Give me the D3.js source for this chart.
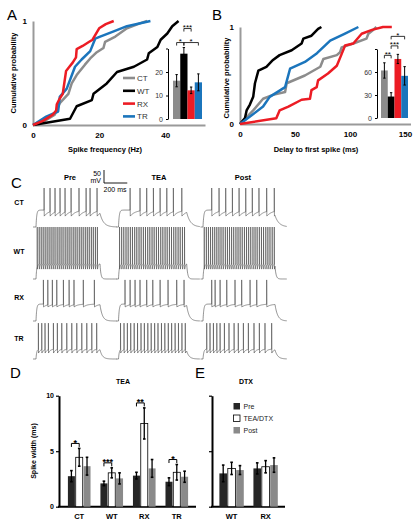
<!DOCTYPE html>
<html><head><meta charset="utf-8">
<script src="https://cdn.jsdelivr.net/npm/d3@7"></script>
<style>body{margin:0;background:#fff}svg{display:block}text{font-family:"Liberation Sans",Arial,Helvetica,sans-serif}</style>
</head><body><svg id="c" width="415" height="522"></svg>
<script>
// ---------------- DATA ----------------
const cellTypes = ["CT","WT","RX","TR"];
const cellColors = ["#8c8c8c","#000000","#ec1c24","#1b75bc"];
// Panel A: cumulative distributions of spike frequency (Hz)
const freqCT = [[0,0],[3,0.03],[6.6,0.1],[8.1,0.21],[10.7,0.3],[11.7,0.4],[13.2,0.48],[15.7,0.58],[17.3,0.64],[19.3,0.7],[21.3,0.74],[21.8,0.8],[24.9,0.85],[28.4,0.93],[32.5,0.98],[34.5,1]];
const freqWT = [[0,0],[11.2,0.06],[13.2,0.18],[17.8,0.24],[18.3,0.3],[22.3,0.4],[25.4,0.51],[30.5,0.56],[34.5,0.63],[35,0.69],[37.6,0.75],[38.6,0.82],[40.6,0.88],[42.1,0.95],[44,1]];
const freqRX = [[0,0],[3,0.04],[6,0.1],[7,0.14],[7.2,0.2],[8,0.25],[9,0.3],[10,0.52],[11,0.56],[12,0.6],[13,0.65],[13.2,0.73],[15,0.76],[17,0.8],[18,0.82],[20,0.93],[22,0.97],[24.4,1]];
const freqTR = [[0,0],[4,0.08],[7.6,0.13],[8.1,0.27],[10.2,0.35],[12.7,0.56],[14.7,0.63],[17.3,0.71],[18.8,0.83],[20.3,0.85],[24.4,0.9],[28.4,0.95],[35.5,1]];
const freqMean = [16.3,27.8,12.2,15.6];
const freqErr = [2.6,2.6,1.4,3.6];
const freqSig = [[0,1,"*",1],[1,2,"***",2],[1,3,"*",1]];
const freqTicks = [0,20,40];
const freqInsetTicks = [0,10,20];
const probTicks = [0,1];
// Panel B: delay to first spike (ms)
const delayCT = [[0,0],[12,0.14],[21,0.26],[30,0.3],[41,0.33],[42.4,0.42],[59,0.5],[73,0.59],[75.8,0.67],[88,0.71],[91,0.74],[92.4,0.79],[103,0.83],[115,0.88],[116.7,0.93],[121,0.97],[124,1]];
const delayWT = [[0,0],[4.5,0.06],[6,0.14],[9,0.2],[12,0.28],[13.6,0.42],[16.7,0.55],[24,0.59],[30,0.66],[36,0.71],[47,0.76],[56,0.83],[57.6,0.88],[65,0.91],[71,0.98],[74,1]];
const delayRX = [[0,0],[33,0.06],[36,0.14],[44,0.18],[56,0.25],[63.6,0.26],[65,0.35],[69.7,0.38],[71,0.45],[80,0.52],[88,0.6],[92,0.71],[95.5,0.81],[103,0.83],[110.6,0.93],[120,0.97],[130,1],[138,1]];
const delayTR = [[0,0],[10.6,0.09],[21,0.18],[27,0.28],[41,0.38],[45.5,0.57],[59,0.64],[70,0.73],[82,0.86],[95,0.93],[107.6,1]];
const delayMean = [62,28,77,55];
const delayErr = [10,5,6,12];
const delaySig = [[0,1,"**",1],[1,2,"***",2],[1,3,"*",3]];
const delayTicks = [0,50,100,150];
const delayInsetTicks = [0,30,60];
// Panel C: spike times (ms after step onset), step duration 550 ms
const stepDur = 550;
const sweepNames = ["Pre","TEA","Post"];
const spkCTpre = [69,120,163,206,249,301,369,430,464,524];
const spkCTtea = [93,173,227,281,335,389,442,510];
const spkCTpost = [66,122,173,224,275,326,376,427,486,544];
const spkWTpre = [10,27,44,61,78,95,112,129,146,163,181,198,215,232,250,267,284,301,319,336,353,371,388,405,423,440,457,475,492,510,527];
const spkWTtea = [8,25,42,60,77,95,112,130,147,165,182,200,217,235,252,270,287,305,322,340,357,375,392,410,427,445,462,480,497,515,532];
const spkWTpost = [9,25,41,57,73,89,105,121,137,153,170,186,202,218,234,251,267,283,299,316,332,348,364,381,397,413,430,446,462,479,495,511,528,544];
const spkRXpre = [63,101,140,178,235,284,326,406,501];
const spkRXtea = [52,93,133,173,227,276,335,399,469,528];
const spkRXpost = [66,92,130,181,244,295,359,410,486];
const spkTRpre = [20,49,77,106,149,183,221,264,307,350,393,436,479,521];
const spkTRtea = [16,44,71,98,126,153,181,208,236,263,291,318,346,373,401,428,456,483,511,538];
const spkTRpost = [28,53,79,105,130,163,198,237,269,308,346,389,430,473,524];
const restMV = [-70,-70,-70,-70];
const thrMV = [-5,-12,-5,-32];
const troughMV = [-28,-32,-16,-47];
const peakMV = [80,130,88,68];
const tauRecov = [40,5,30,15];
const tauOff = [30,8,20,20];
// Panel D: spike width (ms), TEA
const groupsD = ["CT","WT","RX","TR"];
const teaPre = [2.75,2.1,2.8,2.25];
const teaPreErr = [0.5,0.2,0.3,0.35];
const teaDrug = [4.45,3.05,7.5,3.1];
const teaDrugErr = [0.8,0.45,1.4,0.7];
const teaPost = [3.65,2.55,3.45,2.7];
const teaPostErr = [0.8,0.5,0.8,0.5];
const teaSig = ["*","***","**","*"];
const widthTicks = [0,5,10];
// Panel E: DTX
const groupsE = ["WT","RX"];
const dtxPre = [3.0,3.45];
const dtxPreErr = [0.75,0.5];
const dtxDrug = [3.45,3.6];
const dtxDrugErr = [0.55,0.55];
const dtxPost = [3.3,3.75];
const dtxPostErr = [0.4,0.65];
const condNames = ["Pre","TEA/DTX","Post"];
const condFill = ["#262626","#ffffff","#8a8a8a"];

// ---------------- DRAW ----------------
const svg = d3.select("#c");
function txt(x,y,t,o={}){
  const e = svg.append("text").attr("x",x).attr("y",y).text(t)
    .attr("font-size",o.size||8).attr("font-weight",o.bold?"bold":"normal")
    .attr("text-anchor",o.anchor||"middle").attr("fill",o.fill||"#000");
  if(o.rot) e.attr("transform",`rotate(-90,${x},${y})`);
  return e;
}
function styleAxis(g,col,w,fs,bold,fill){
  g.select(".domain").attr("stroke",col).attr("stroke-width",w);
  g.selectAll(".tick line").attr("stroke",col);
  g.selectAll(".tick text").attr("font-size",fs).attr("font-weight",bold?"bold":"normal")
    .attr("font-family",'"Liberation Sans",Arial,sans-serif').attr("fill",fill||"#000");
}

function cdfPanel(o){
  const x = d3.scaleLinear().domain(o.xd).range(o.xr);
  const y = d3.scaleLinear().domain([0,1]).range(o.yr);
  const gx = svg.append("g").attr("transform",`translate(0,${o.yr[0]})`)
    .call(d3.axisBottom(x).tickValues(o.ticks).tickSize(0).tickPadding(7).tickFormat(d3.format("d")));
  styleAxis(gx,"#9a9a9a",2,8,true);
  const gy = svg.append("g").attr("transform",`translate(${o.xr[0]},0)`)
    .call(d3.axisLeft(y).tickValues(probTicks).tickSize(0).tickPadding(6).tickFormat(d3.format("d")));
  styleAxis(gy,"#9a9a9a",2,8,true);
  const line = d3.line().x(d=>x(d[0])).y(d=>y(d[1]));
  [0,1,3,2].forEach(i=>{
    svg.append("path").datum(o.series[i]).attr("d",line).attr("fill","none")
      .attr("stroke",cellColors[i]).attr("stroke-width",2.5).attr("stroke-linejoin","round");
  });
  txt(o.xlab[0],o.xlab[1],o.xlabel,{bold:true,size:7.5});
  txt(o.ylab[0],o.ylab[1],"Cumulative probability",{bold:true,size:7.5,rot:true});
  // inset
  const iy = d3.scaleLinear().domain(o.iyd).range(o.iyr);
  const ix = d3.scaleBand().domain(cellTypes).range(o.ixr).padding(0);
  const ga = svg.append("g").attr("transform",`translate(${o.iax},0)`)
    .call(d3.axisLeft(iy).tickValues(o.iticks.concat([o.iyd[1]])).tickSize(2).tickSizeOuter(0).tickPadding(3)
      .tickFormat(d=>o.iticks.includes(d)?d:""));
  styleAxis(ga,"#000",1,7,false,"#333");
  cellTypes.forEach((c,i)=>{
    svg.append("rect").attr("x",ix(c)).attr("y",iy(o.mean[i])).attr("width",ix.bandwidth())
      .attr("height",iy(0)-iy(o.mean[i])).attr("fill",cellColors[i]);
    const cx = ix(c)+ix.bandwidth()/2;
    svg.append("line").attr("x1",cx).attr("x2",cx).attr("y1",iy(o.mean[i]-o.err[i])).attr("y2",iy(o.mean[i]+o.err[i]))
      .attr("stroke","#000").attr("stroke-width",1);
    [o.mean[i]-o.err[i],o.mean[i]+o.err[i]].forEach(v=>svg.append("line").attr("x1",cx-1.2).attr("x2",cx+1.2)
      .attr("y1",iy(v)).attr("y2",iy(v)).attr("stroke","#000").attr("stroke-width",1));
  });
  const topY = d3.min(cellTypes.map((c,i)=>iy(o.mean[i]+o.err[i])));
  o.sig.forEach(([a,b,s,lev])=>{
    const xa = ix(cellTypes[a])+ix.bandwidth()/2, xb = ix(cellTypes[b])+ix.bandwidth()/2;
    const by = topY - o.sigBase - (lev-1)*o.sigStep;
    svg.append("path").attr("d",`M${xa},${by+3}V${by}H${xb}V${by+3}`).attr("fill","none").attr("stroke","#000").attr("stroke-width",0.8);
    txt((xa+xb)/2,by+1.5,s,{size:8});
  });
}

// Panel A
txt(7,20,"A",{size:15,anchor:"start"});
cdfPanel({xd:[0,52],xr:[33,205],yr:[125,21],ticks:freqTicks,series:[freqCT,freqWT,freqRX,freqTR],
  xlab:[105,152],xlabel:"Spike frequency  (Hz)",ylab:[16,73],
  iyd:[0,30],iyr:[119,48.5],ixr:[173,202],iax:168,iticks:freqInsetTicks,mean:freqMean,err:freqErr,
  sig:freqSig,sigBase:5,sigStep:14});
// legend A
cellTypes.forEach((c,i)=>{
  const ly = 78+i*12.8;
  svg.append("line").attr("x1",123).attr("x2",135).attr("y1",ly).attr("y2",ly).attr("stroke",cellColors[i]).attr("stroke-width",2.6);
  txt(137,ly+3,c,{size:8,anchor:"start",fill:"#333"});
});
// Panel B
txt(212,20,"B",{size:15,anchor:"start"});
cdfPanel({xd:[0,155],xr:[240,410.5],yr:[124,27],ticks:delayTicks,series:[delayCT,delayWT,delayRX,delayTR],
  xlab:[316,152],xlabel:"Delay to first spike (ms)",ylab:[229,78],
  iyd:[0,90],iyr:[118,49],ixr:[381,408],iax:377,iticks:delayInsetTicks,mean:delayMean,err:delayErr,
  sig:delaySig,sigBase:-1,sigStep:9.5});

// Panel C
txt(11,188,"C",{size:15,anchor:"start"});
const spikes = [[spkCTpre,spkCTtea,spkCTpost],[spkWTpre,spkWTtea,spkWTpost],[spkRXpre,spkRXtea,spkRXpost],[spkTRpre,spkTRtea,spkTRpost]];
const colOn = [36,118.5,203], colOff = [100,186.7,275], colL = [33,116.5,200.5], colR = [117,200,287];
const rowRest = [227,279,321,359];
function buildTrace(spk,r,t0,t1){
  const rest=restMV[r],thr=thrMV[r],tro=troughMV[r],pk=peakMV[r],tr=tauRecov[r],to=tauOff[r];
  const pts=[[t0,rest],[0,rest]];
  let last=null;
  const val=t=> last===null ? rest+(thr-rest)*(1-Math.exp(-t/6)) : tro+(thr-tro)*(1-Math.exp(-(t-last)/tr));
  let i=0,t=0;
  while(t<=stepDur){
    if(i<spk.length && t>=spk[i]){
      const ts=spk[i];
      pts.push([ts,val(ts)]); pts.push([ts+0.5,pk]); pts.push([ts+1.8,tro]);
      last=ts+1.8; i++; t=Math.ceil(last+0.1); continue;
    }
    pts.push([t,val(t)]); t+=1;
  }
  const vEnd=val(stepDur);
  for(let u=stepDur;u<=t1;u+=2) pts.push([u,rest+(vEnd-rest)*Math.exp(-(u-stepDur)/to)]);
  return pts;
}
cellTypes.forEach((c,r)=>{
  const ys = d3.scaleLinear().domain([-70,80]).range([rowRest[r],rowRest[r]-39]);
  [0,1,2].forEach(k=>{
    const xs = d3.scaleLinear().domain([0,stepDur]).range([colOn[k],colOff[k]]);
    const pts = buildTrace(spikes[r][k],r,xs.invert(colL[k]),xs.invert(colR[k]));
    svg.append("path").attr("d",d3.line().x(d=>xs(d[0])).y(d=>ys(d[1]))(pts))
      .attr("fill","none").attr("stroke","#3a3a3a").attr("stroke-width",0.55);
  });
  txt(19,(r===0?205:r===1?254:r===2?300:341),c,{bold:true,size:7});
});
[70,159,243].forEach((x,k)=>txt(x,180,sweepNames[k],{bold:true,size:7.5}));
// scale bar
{
  const xs = d3.scaleLinear().domain([0,stepDur]).range([colOn[0],colOff[0]]);
  const ys = d3.scaleLinear().domain([-70,80]).range([rowRest[0],rowRest[0]-39]);
  const bx=104, by=183;
  const h = ys(-70)-ys(-20), w = xs(200)-xs(0);
  svg.append("path").attr("d",`M${bx},${by-h}V${by}H${bx+w}`).attr("fill","none").attr("stroke","#000").attr("stroke-width",0.9);
  txt(101,176,"50",{size:7,anchor:"end"});
  txt(101,183,"mV",{size:7,anchor:"end"});
  txt(115,192,"200 ms",{size:7});
}

// Panel D & E
const yW = d3.scaleLinear().domain([0,10]).range([506.7,395.7]);
function barPanel(o){
  const xg = d3.scaleBand().domain(o.groups).range(o.xr).paddingInner(o.pi).paddingOuter(o.po);
  const xi = d3.scaleBand().domain([0,1,2]).range([0,xg.bandwidth()]);
  const g = svg.append("g").attr("transform",`translate(${o.ax},0)`)
    .call(d3.axisLeft(yW).tickValues(widthTicks).tickSize(3).tickSizeOuter(0).tickPadding(2).tickFormat(o.labels?d3.format("d"):()=>""));
  styleAxis(g,"#000",2,7,true);
  g.selectAll(".tick line").attr("stroke-width",1.2);
  svg.append("line").attr("x1",o.ax-1).attr("x2",o.xend).attr("y1",yW(0)).attr("y2",yW(0)).attr("stroke","#000").attr("stroke-width",2);
  o.groups.forEach((gn,gi)=>{
    const tops=[];
    [0,1,2].forEach(k=>{
      const m=o.vals[k][gi], e=o.errs[k][gi];
      const x0 = xg(gn)+xi(k), bw=xi.bandwidth();
      svg.append("rect").attr("x",x0+0.4).attr("y",yW(m)).attr("width",bw-0.8).attr("height",yW(0)-yW(m))
        .attr("fill",condFill[k]).attr("stroke",k===1?"#000":"none").attr("stroke-width",0.8);
      const cx=x0+bw/2;
      svg.append("line").attr("x1",cx).attr("x2",cx).attr("y1",yW(m-e)).attr("y2",yW(m+e)).attr("stroke","#000").attr("stroke-width",1.3);
      [m-e,m+e].forEach(v=>svg.append("line").attr("x1",cx-1.3).attr("x2",cx+1.3).attr("y1",yW(v)).attr("y2",yW(v)).attr("stroke","#000").attr("stroke-width",1.6));
      tops.push([cx,yW(m+e)]);
    });
    if(o.sig){
      const by = Math.min(tops[0][1],tops[1][1]) - 5;
      svg.append("path").attr("d",`M${tops[0][0]},${by+3.5}V${by}H${tops[1][0]}V${by+3.5}`).attr("fill","none").attr("stroke","#000").attr("stroke-width",1);
      txt((tops[0][0]+tops[1][0])/2,by+2.5,o.sig[gi],{size:9,bold:true});
    }
    txt(xg(gn)+xg.bandwidth()/2,519,gn,{bold:true,size:7.5});
  });
}
txt(10,378,"D",{size:15,anchor:"start"});
txt(123,384,"TEA",{bold:true,size:7});
txt(36,451,"Spike width (ms)",{bold:true,size:7,rot:true});
barPanel({groups:groupsD,xr:[61,195],pi:0.28,po:0.2,ax:59,xend:196,labels:true,
  vals:[teaPre,teaDrug,teaPost],errs:[teaPreErr,teaDrugErr,teaPostErr],sig:teaSig});
txt(195,378,"E",{size:15,anchor:"start"});
txt(246,384,"DTX",{bold:true,size:7});
barPanel({groups:groupsE,xr:[212.2,285],pi:0.26,po:0.2,ax:212,xend:285,labels:false,
  vals:[dtxPre,dtxDrug,dtxPost],errs:[dtxPreErr,dtxDrugErr,dtxPostErr],sig:null});
condNames.forEach((n,k)=>{
  const ly = 403+k*12;
  svg.append("rect").attr("x",233.5).attr("y",ly).attr("width",6.5).attr("height",6.5).attr("fill",condFill[k]).attr("stroke",k===1?"#000":"none").attr("stroke-width",0.8);
  txt(243.5,ly+6,n,{size:7,anchor:"start",fill:"#222"});
});
</script></body></html>
